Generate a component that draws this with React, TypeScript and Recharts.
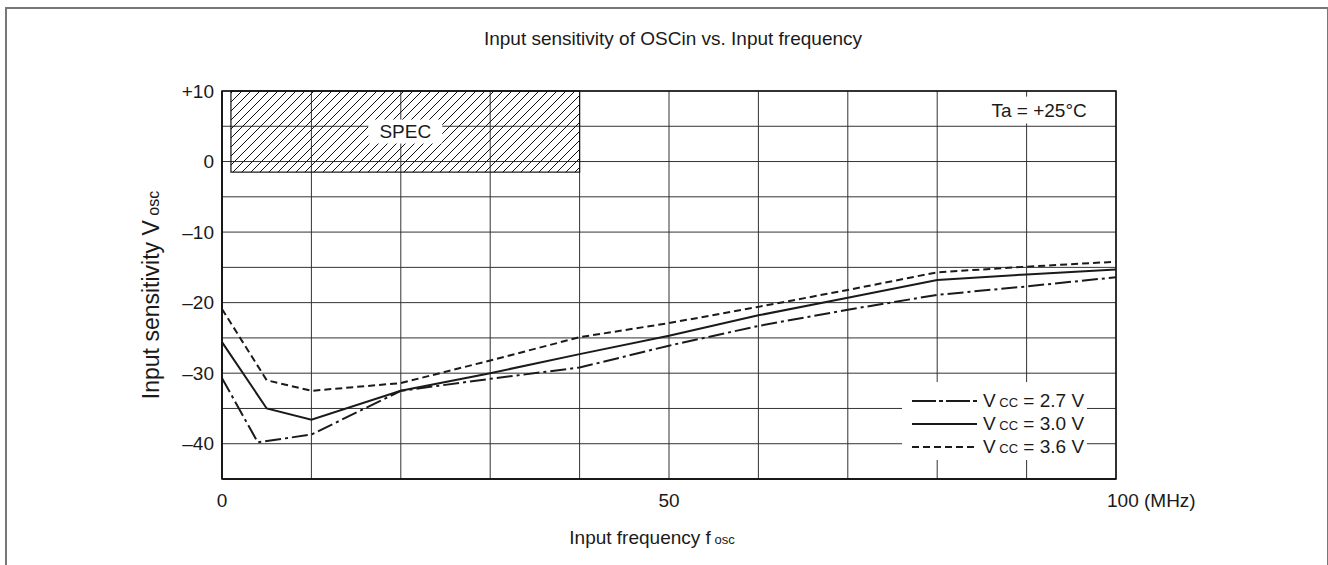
import React from 'react';
import { CartesianGrid, Legend, Line, LineChart, ReferenceArea, XAxis, YAxis } from 'recharts';

// frequency (MHz) and input sensitivity (dBm)
const freq27 = [0, 4, 10, 20, 30, 40, 50, 60, 70, 80, 90, 100];
const vcc27 = [-30.7, -39.8, -38.7, -32.5, -30.8, -29.2, -26.1, -23.3, -21.0, -18.9, -17.7, -16.4];
const freq30 = [0, 5, 10, 20, 30, 40, 50, 60, 70, 80, 90, 100];
const vcc30 = [-25.6, -35.0, -36.6, -32.5, -30.0, -27.3, -24.7, -21.8, -19.3, -16.8, -16.0, -15.3];
const freq36 = [0, 5, 10, 20, 30, 40, 50, 60, 70, 80, 90, 100];
const vcc36 = [-20.9, -31.0, -32.5, -31.4, -28.2, -24.9, -22.9, -20.6, -18.2, -15.7, -14.9, -14.2];

const xTicks = [0, 10, 20, 30, 40, 50, 60, 70, 80, 90, 100];
const xLabels = [0, 50, 100];
const yTicks = [-45, -40, -35, -30, -25, -20, -15, -10, -5, 0, 5, 10];
const yLabels = [-40, -30, -20, -10, 0, 10];

const specArea = { x1: 1, x2: 40, y1: -1.5, y2: 10 };
const taArea = { x1: 85.7, x2: 97.1, y1: 5.4, y2: 9.2 };

const legendRows = [
  { name: '2.7', dash: '24 3 4 3' },
  { name: '3.0', dash: undefined },
  { name: '3.6', dash: '7 4' },
];

const FONT = '"Liberation Sans", Arial, sans-serif';
const INK = '#1a1a1a';

const toPoints = (xs: number[], ys: number[]) => xs.map((f, i) => ({ f, v: ys[i] }));

const XTick = (props: any) => {
  const { x, y, payload } = props;
  const v = payload.value;
  if (!xLabels.includes(v)) return <g />;
  if (v === 100) {
    return (
      <text x={x - 9} y={y} dy="0.71em" textAnchor="start" fontSize={19} fill={INK} fontFamily={FONT}>
        100 (MHz)
      </text>
    );
  }
  return (
    <text x={x} y={y} dy="0.71em" textAnchor="middle" fontSize={19} fill={INK} fontFamily={FONT}>
      {v}
    </text>
  );
};

const YTick = (props: any) => {
  const { x, y, payload } = props;
  const v = payload.value;
  if (!yLabels.includes(v)) return <g />;
  const label = v > 0 ? `+${v}` : v < 0 ? `–${-v}` : '0';
  return (
    <text x={x} y={y} dy="0.355em" textAnchor="end" fontSize={19} fill={INK} fontFamily={FONT}>
      {label}
    </text>
  );
};

const SpecShape = (props: any) => {
  const { x, y, width, height } = props;
  const cx = x + width / 2;
  const cy = y + height / 2;
  return (
    <g>
      <defs>
        <pattern id="hatch" patternUnits="userSpaceOnUse" width={9} height={9}>
          <path d="M-1,1 l2,-2 M0,9 l9,-9 M8,10 l2,-2" stroke="#111" strokeWidth={1} />
        </pattern>
      </defs>
      <rect x={x} y={y} width={width} height={height} fill="url(#hatch)" stroke="#111" strokeWidth={1.2} />
      <rect x={cx - 37} y={cy - 12} width={74} height={24} fill="#fff" />
      <text x={cx} y={cy} dy="0.355em" textAnchor="middle" fontSize={19} fill={INK} fontFamily={FONT}>
        SPEC
      </text>
    </g>
  );
};

const TaShape = (props: any) => {
  const { x, y, width, height } = props;
  return (
    <g>
      <rect x={x} y={y} width={width} height={height} fill="#fff" />
      <text x={x + width / 2} y={y + height / 2} dy="0.355em" textAnchor="middle" fontSize={19} fill={INK} fontFamily={FONT}>
        Ta = +25°C
      </text>
    </g>
  );
};

const renderLegend = () => (
  <div style={{ padding: '7px 0 0 10px', fontFamily: FONT, color: INK }}>
    {legendRows.map((r) => (
      <div key={r.name} style={{ display: 'flex', alignItems: 'center', height: 23 }}>
        <svg width={65} height={6}>
          <line x1={0} y1={3} x2={65} y2={3} stroke={INK} strokeWidth={2} strokeDasharray={r.dash} />
        </svg>
        <span style={{ marginLeft: 6, fontSize: 19, whiteSpace: 'nowrap' }}>
          V<span style={{ fontSize: 13 }}> CC</span> = {r.name} V
        </span>
      </div>
    ))}
  </div>
);

const YLabel = () => (
  <text transform="translate(151, 295) rotate(-90)" textAnchor="middle" dy="0.355em" fontSize={23} fill={INK} fontFamily={FONT}>
    Input sensitivity V<tspan fontSize={16}> osc</tspan>
  </text>
);

const XLabel = () => (
  <text x={652} y={537} textAnchor="middle" dy="0.355em" fontSize={19} fill={INK} fontFamily={FONT}>
    Input frequency f<tspan fontSize={13}> osc</tspan>
  </text>
);

export default function App() {
  return (
    <div style={{ position: 'fixed', left: 0, top: 0, width: 1328, height: 565, background: '#fff', overflow: 'hidden' }}>
      <div
        style={{
          position: 'absolute', left: 5, top: 7, width: 1320, height: 600,
          borderTop: '2px solid #777', borderLeft: '2px solid #777', borderRight: '2px solid #777',
        }}
      />
      <div
        style={{
          position: 'absolute', left: 0, width: 1328, top: 28, textAlign: 'center', paddingLeft: 18, boxSizing: 'border-box',
          fontFamily: FONT, fontSize: 19, color: INK,
        }}
      >
        Input sensitivity of OSCin vs. Input frequency
      </div>
      <div style={{ position: 'absolute', left: 0, top: 0 }}>
        <LineChart width={1328} height={565} margin={{ top: 91, right: 212, bottom: 56, left: 162 }} style={{ fontFamily: FONT }}>
          <CartesianGrid stroke="#333" strokeWidth={1} />
          <XAxis
            dataKey="f" type="number" domain={[0, 100]} ticks={xTicks} height={30}
            tick={<XTick />} tickLine={false} tickSize={0} tickMargin={15} axisLine={{ stroke: '#111', strokeWidth: 1.5 }}
            allowDataOverflow label={<XLabel />}
          />
          <YAxis
            type="number" domain={[-45, 10]} ticks={yTicks} width={60}
            tick={<YTick />} tickLine={false} tickSize={0} tickMargin={8} axisLine={{ stroke: '#111', strokeWidth: 1.5 }}
            allowDataOverflow label={<YLabel />}
          />
          <ReferenceArea x1={0} x2={100} y1={-45} y2={10} fill="none" stroke="#111" strokeWidth={1.5} ifOverflow="visible" />
          <ReferenceArea {...specArea} shape={<SpecShape />} ifOverflow="visible" />
          <ReferenceArea {...taArea} shape={<TaShape />} ifOverflow="visible" />
          <Line data={toPoints(freq27, vcc27)} dataKey="v" name="Vcc = 2.7 V" stroke={INK} strokeWidth={2} strokeDasharray="16 4 3 4" dot={false} isAnimationActive={false} />
          <Line data={toPoints(freq30, vcc30)} dataKey="v" name="Vcc = 3.0 V" stroke={INK} strokeWidth={2} dot={false} isAnimationActive={false} />
          <Line data={toPoints(freq36, vcc36)} dataKey="v" name="Vcc = 3.6 V" stroke={INK} strokeWidth={2} strokeDasharray="7 4" dot={false} isAnimationActive={false} />
          <Legend
            layout="vertical" align="center" verticalAlign="middle" content={renderLegend}
            wrapperStyle={{ position: 'absolute', left: 902, top: 382, width: 185, height: 78, background: '#fff' }}
          />
        </LineChart>
      </div>
    </div>
  );
}
